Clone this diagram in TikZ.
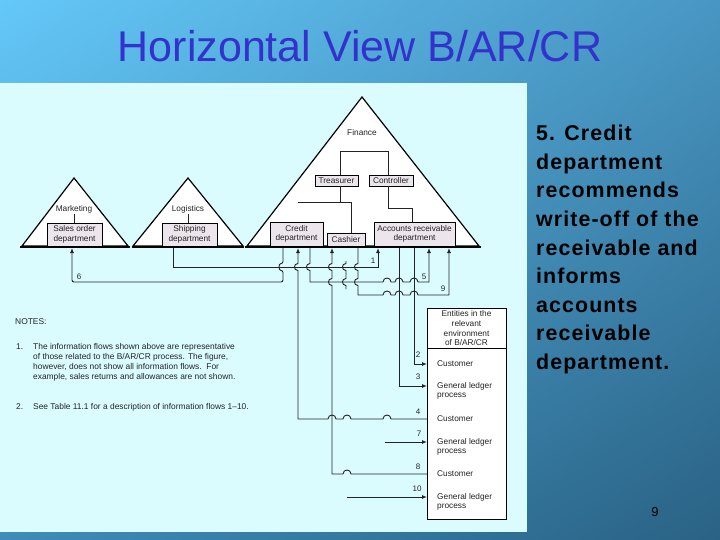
\documentclass[tikz,border=0pt]{standalone}
\usepackage{fontspec}
\setmainfont{Liberation Sans}
\newfontfamily\rtfont[LetterSpace=5]{Liberation Sans}
\usetikzlibrary{arrows.meta,shadings}
\definecolor{panelc}{RGB}{218,252,255}
\definecolor{boxc}{RGB}{236,230,236}
\definecolor{titlec}{RGB}{51,51,204}
\definecolor{linec}{RGB}{35,35,35}
\definecolor{bgA}{RGB}{100,200,248}
\definecolor{bgB}{RGB}{72,150,195}
\definecolor{bgC}{RGB}{62,140,185}
\definecolor{bgD}{RGB}{42,98,132}
\newcommand\vjmp[2]{-- (#1,#2-3.5) .. controls (#1-4.7,#2-3.5) and (#1-4.7,#2+3.5) .. (#1,#2+3.5)}
\newcommand\hjmp[2]{-- (#1-4,#2) .. controls (#1-4,#2-5.3) and (#1+4,#2-5.3) .. (#1+4,#2)}
\begin{document}
\begin{tikzpicture}[x=1pt,y=-1pt,
  tri/.style={draw=black,fill=white,line width=1.2pt,line join=miter},
  baseln/.style={draw=black,line width=2pt},
  dept/.style={draw=black,fill=boxc,line width=0.7pt},
  lbl/.style={font=\fontsize{8.3}{9.7}\selectfont,text=linec,inner sep=0pt},
  num/.style={font=\fontsize{8}{9}\selectfont,text=linec,inner sep=0pt},
  flow/.style={draw=linec,line width=0.9pt},
  arr/.style={-{Latex[length=5pt,width=4pt]}},
  rarr/.style={{Latex[length=5pt,width=4pt]}-},
  note/.style={font=\fontsize{8.4}{10}\selectfont,text=linec,inner sep=0pt,anchor=west},
  ent/.style={font=\fontsize{8.3}{10}\selectfont,text=linec,inner sep=0pt,anchor=west},
  rtext/.style={font=\rtfont\bfseries\fontsize{21.4}{28.5}\selectfont,text=black,inner sep=0pt,anchor=base west},
]
\useasboundingbox (0,0) rectangle (720,540);
\shade[upper left=bgA, upper right=bgB, lower left=bgC, lower right=bgD] (0,0) rectangle (720,540);
\fill[panelc] (0,83) rectangle (527,532);

% title
\node[font=\fontsize{43}{46}\selectfont,text=titlec,anchor=base,inner sep=0pt] (title) at (360,62) {Horizontal View B/AR/CR};

% triangles
\path[tri] (22,246) -- (74,178) -- (128,246) -- cycle;
\path[tri] (133,246) -- (188,178) -- (243,246) -- cycle;
\path[tri] (247,246) -- (362,97) -- (479,246) -- cycle;
\draw[baseln] (20,247) -- (130,247);
\draw[baseln] (132,247) -- (244,247);
\draw[baseln] (245,247) -- (481,247);

% labels in triangles
\node[lbl] (mkt) at (74,209) {Marketing};
\node[lbl] (log) at (188,209) {Logistics};
\node[lbl] (fin) at (362,133) {Finance};

% department boxes
\path[dept] (47,223) rectangle (102,246);
\node[lbl,align=center] (sales) at (74.5,234.5) {Sales order\\department};
\path[dept] (162,223) rectangle (217,246);
\node[lbl,align=center] (ship) at (189.5,234.5) {Shipping\\department};
\path[dept] (270,222) rectangle (323,246);
\node[lbl,align=center] (credit) at (296.5,234) {Credit\\department};
\path[dept] (327,233) rectangle (365,246);
\node[lbl] (cash) at (346,240) {Cashier};
\path[dept] (374,222) rectangle (455,246);
\node[lbl,align=center] (ar) at (414.5,234) {Accounts receivable\\department};
\path[dept] (315,175) rectangle (358,186);
\node[lbl] (treas) at (336.5,180.5) {Treasurer};
\path[dept] (369,175) rectangle (413,186);
\node[lbl] (ctrl) at (391,180.5) {Controller};

% organisation lines
\draw[flow] (74,214) -- (74,223);
\draw[flow] (188,214) -- (188,223);
\draw[flow] (340,175) -- (340,151) -- (388,151) -- (388,175);
\draw[flow] (340,186) -- (340,202);
\draw[flow] (298,202) -- (351,202) -- (351,233);
\draw[flow] (388,186) -- (388,208) -- (412,208) -- (412,222);

% information flows
% 6
\draw[flow,arr,rounded corners=2pt] (283,248) \vjmp{283}{267} -- (283,282) -- (72,282) -- (72,248);
\node[num] (n6) at (79,277) {6};
% 1
\draw[flow,arr] (173,248) -- (173,267) -- (378,267) -- (378,248);
\node[num] (n1) at (373,261) {1};
% 4
\draw[flow,rarr] (298,248) \vjmp{298}{267} -- (298,419) \hjmp{332}{419} \hjmp{347}{419} \hjmp{387}{419} -- (427,419);
\node[num] (n4) at (418,412) {4};
% 5
\draw[flow,arr] (310,248) \vjmp{310}{267} -- (310,282) \hjmp{387}{282} \hjmp{399}{282} \hjmp{414}{282} -- (429,282) -- (429,248);
\node[num] (n5) at (424,277) {5};
% 9
\draw[flow,arr] (358,248) \vjmp{358}{267} \vjmp{358}{282} -- (358,295) \hjmp{387}{295} \hjmp{399}{295} \hjmp{414}{295} -- (449,295) -- (449,248);
\node[num] (n9) at (443,289) {9};
% stub
\draw[flow] (346,261) \vjmp{346}{267} \vjmp{346}{282} -- (346,289);
% 8
\draw[flow,rarr] (332,248) \vjmp{332}{267} \vjmp{332}{282} -- (332,474) \hjmp{347}{474} -- (427,474);
\node[num] (n8) at (418,467) {8};
% 2
\draw[flow,arr] (414,248) -- (414,364) -- (427,364);
\node[num] (n2) at (418,355) {2};
% 3
\draw[flow,arr] (399,248) -- (399,386) -- (427,386);
\node[num] (n3) at (418,377) {3};
% 7
\coordinate (s7) at (385,442);
\draw[flow,arr] (s7) -- (427,442);
\node[num] (n7) at (419,434) {7};
% 10
\coordinate (s10) at (347,497);
\draw[flow,arr] (s10) -- (427,497);
\node[num] (n10) at (417,489) {10};

% entities box
\draw[black,fill=white,line width=1pt] (427,308) rectangle (506,519);
\draw[black,line width=1.4pt] (506.5,309) -- (506.5,519.5) -- (428,519.5);
\draw[black,line width=0.8pt] (427,348) -- (506,348);
\node[lbl] (e1) at (466.5,314) {Entities in the};
\node[lbl] (e2) at (466.5,323.7) {relevant};
\node[lbl] (e3) at (466.5,333.3) {environment};
\node[lbl] (e4) at (466.5,343) {of B/AR/CR};
\node[ent] (c1) at (437,364) {Customer};
\node[ent] (g1) at (437,386) {General ledger};
\node[ent] (p1) at (437,396.5) {process};
\node[ent] (c2) at (437,419) {Customer};
\node[ent] (g2) at (437,442) {General ledger};
\node[ent] (p2) at (437,452.5) {process};
\node[ent] (c3) at (437,474) {Customer};
\node[ent] (g3) at (437,497) {General ledger};
\node[ent] (p3) at (437,507.5) {process};

% notes
\node[note] (notes) at (15,322) {NOTES:};
\node[note] (k1) at (16,347) {1.};
\node[note] (t1) at (33,347) {The information flows shown above are representative};
\node[note] (t2) at (33,357) {of those related to the B/AR/CR process. The figure,};
\node[note] (t3) at (33,367) {however, does not show all information flows.\ \ For};
\node[note] (t4) at (33,377) {example, sales returns and allowances are not shown.};
\node[note] (k2) at (16,407) {2.};
\node[note] (t5) at (33,407) {See Table 11.1 for a description of information flows 1--10.};

% right text
\node[rtext] (r1) at (536,141) {5. Credit};
\node[rtext] (r2) at (536,169.5) {department};
\node[rtext] (r3) at (536,198) {recommends};
\node[rtext] (r4) at (536,226.5) {write-off of the};
\node[rtext] (r5) at (536,255) {receivable and};
\node[rtext] (r6) at (536,283.5) {informs};
\node[rtext] (r7) at (536,312) {accounts};
\node[rtext] (r8) at (536,340.5) {receivable};
\node[rtext] (r9) at (536,369) {department.};

\node[font=\fontsize{13}{15}\selectfont,text=black,inner sep=0pt] (pg) at (655,512) {9};
\end{tikzpicture}
\end{document}
